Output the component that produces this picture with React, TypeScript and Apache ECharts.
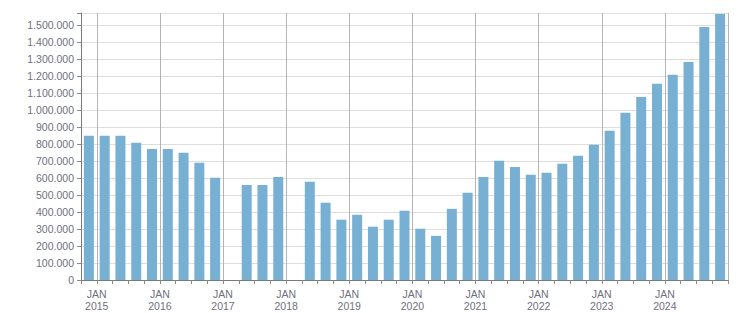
import React, { useEffect, useRef } from "react";
import * as echarts from "echarts";

// Quarterly categories: Q4 2014 .. Q4 2024
const years = ["2014", "2015", "2016", "2017", "2018", "2019", "2020", "2021", "2022", "2023", "2024"];
const quarters = ["Q1", "Q2", "Q3", "Q4"];
const categories: string[] = ["2014-Q4"];
years.slice(1).forEach((y) => quarters.forEach((q) => categories.push(`${y}-${q}`)));

const values: (number | null)[] = [
  850000,
  850000, 850000, 808000, 772000,
  772000, 749000, 690000, 602000,
  null, 560000, 560000, 607000,
  null, 578000, 455000, 355000,
  384000, 314000, 355000, 408000,
  302000, 260000, 419000, 514000,
  607000, 702000, 666000, 619000,
  631000, 684000, 731000, 796000,
  878000, 984000, 1078000, 1155000,
  1208000, 1284000, 1490000, 1566000,
];

const monthLabel = "JAN";
const yMax = 1572000;
const yStep = 100000;

const fmt = (v: number) => String(Math.round(v)).replace(/\B(?=(\d{3})+(?!\d))/g, ".");

export default function App() {
  const ref = useRef<HTMLDivElement>(null);
  useEffect(() => {
    if (!ref.current) return;
    const chart = echarts.init(ref.current, null, { renderer: "svg" });
    const labelColor = "#6f6f80";
    const font = "Liberation Sans";
    chart.setOption({
      animation: false,
      grid: { left: 81, right: 23, top: 13, bottom: 33, containLabel: false },
      xAxis: {
        type: "category",
        data: categories,
        boundaryGap: true,
        axisLine: { show: true, lineStyle: { color: "#7a7a7a", width: 1 } },
        axisTick: { show: true, interval: 0, length: 4, lineStyle: { color: "#8a8a8a" } },
        splitLine: {
          show: true,
          interval: (i: number) => i % 4 === 1,
          lineStyle: { color: "#b4b4b4", width: 1 },
        },
        axisLabel: {
          interval: (i: number) => i % 4 === 1,
          formatter: (v: string) => `${monthLabel}\n${v.slice(0, 4)}`,
          color: labelColor,
          fontFamily: font,
          fontSize: 10.5,
          lineHeight: 12,
          margin: 8,
          padding: [0, 15.8, 0, 0],
        },
      },
      yAxis: {
        type: "value",
        min: 0,
        max: yMax,
        interval: yStep,
        axisLine: { show: true, lineStyle: { color: "#7a7a7a", width: 1 } },
        axisTick: { show: true, length: 4, lineStyle: { color: "#8a8a8a" } },
        splitLine: { show: true, lineStyle: { color: "#dedede", width: 1 } },
        axisLabel: {
          formatter: (v: number) => (v % yStep === 0 ? fmt(v) : ""),
          color: labelColor,
          fontFamily: font,
          fontSize: 10.5,
          margin: 7,
        },
      },
      series: [
        {
          type: "bar",
          data: values,
          barWidth: 10,
          itemStyle: { color: "#77b0d3" },
        },
      ],
    });
    return () => chart.dispose();
  }, []);
  return (
    <div
      ref={ref}
      style={{ position: "fixed", left: 0, top: 0, width: 751, height: 313, background: "#fff" }}
    />
  );
}
